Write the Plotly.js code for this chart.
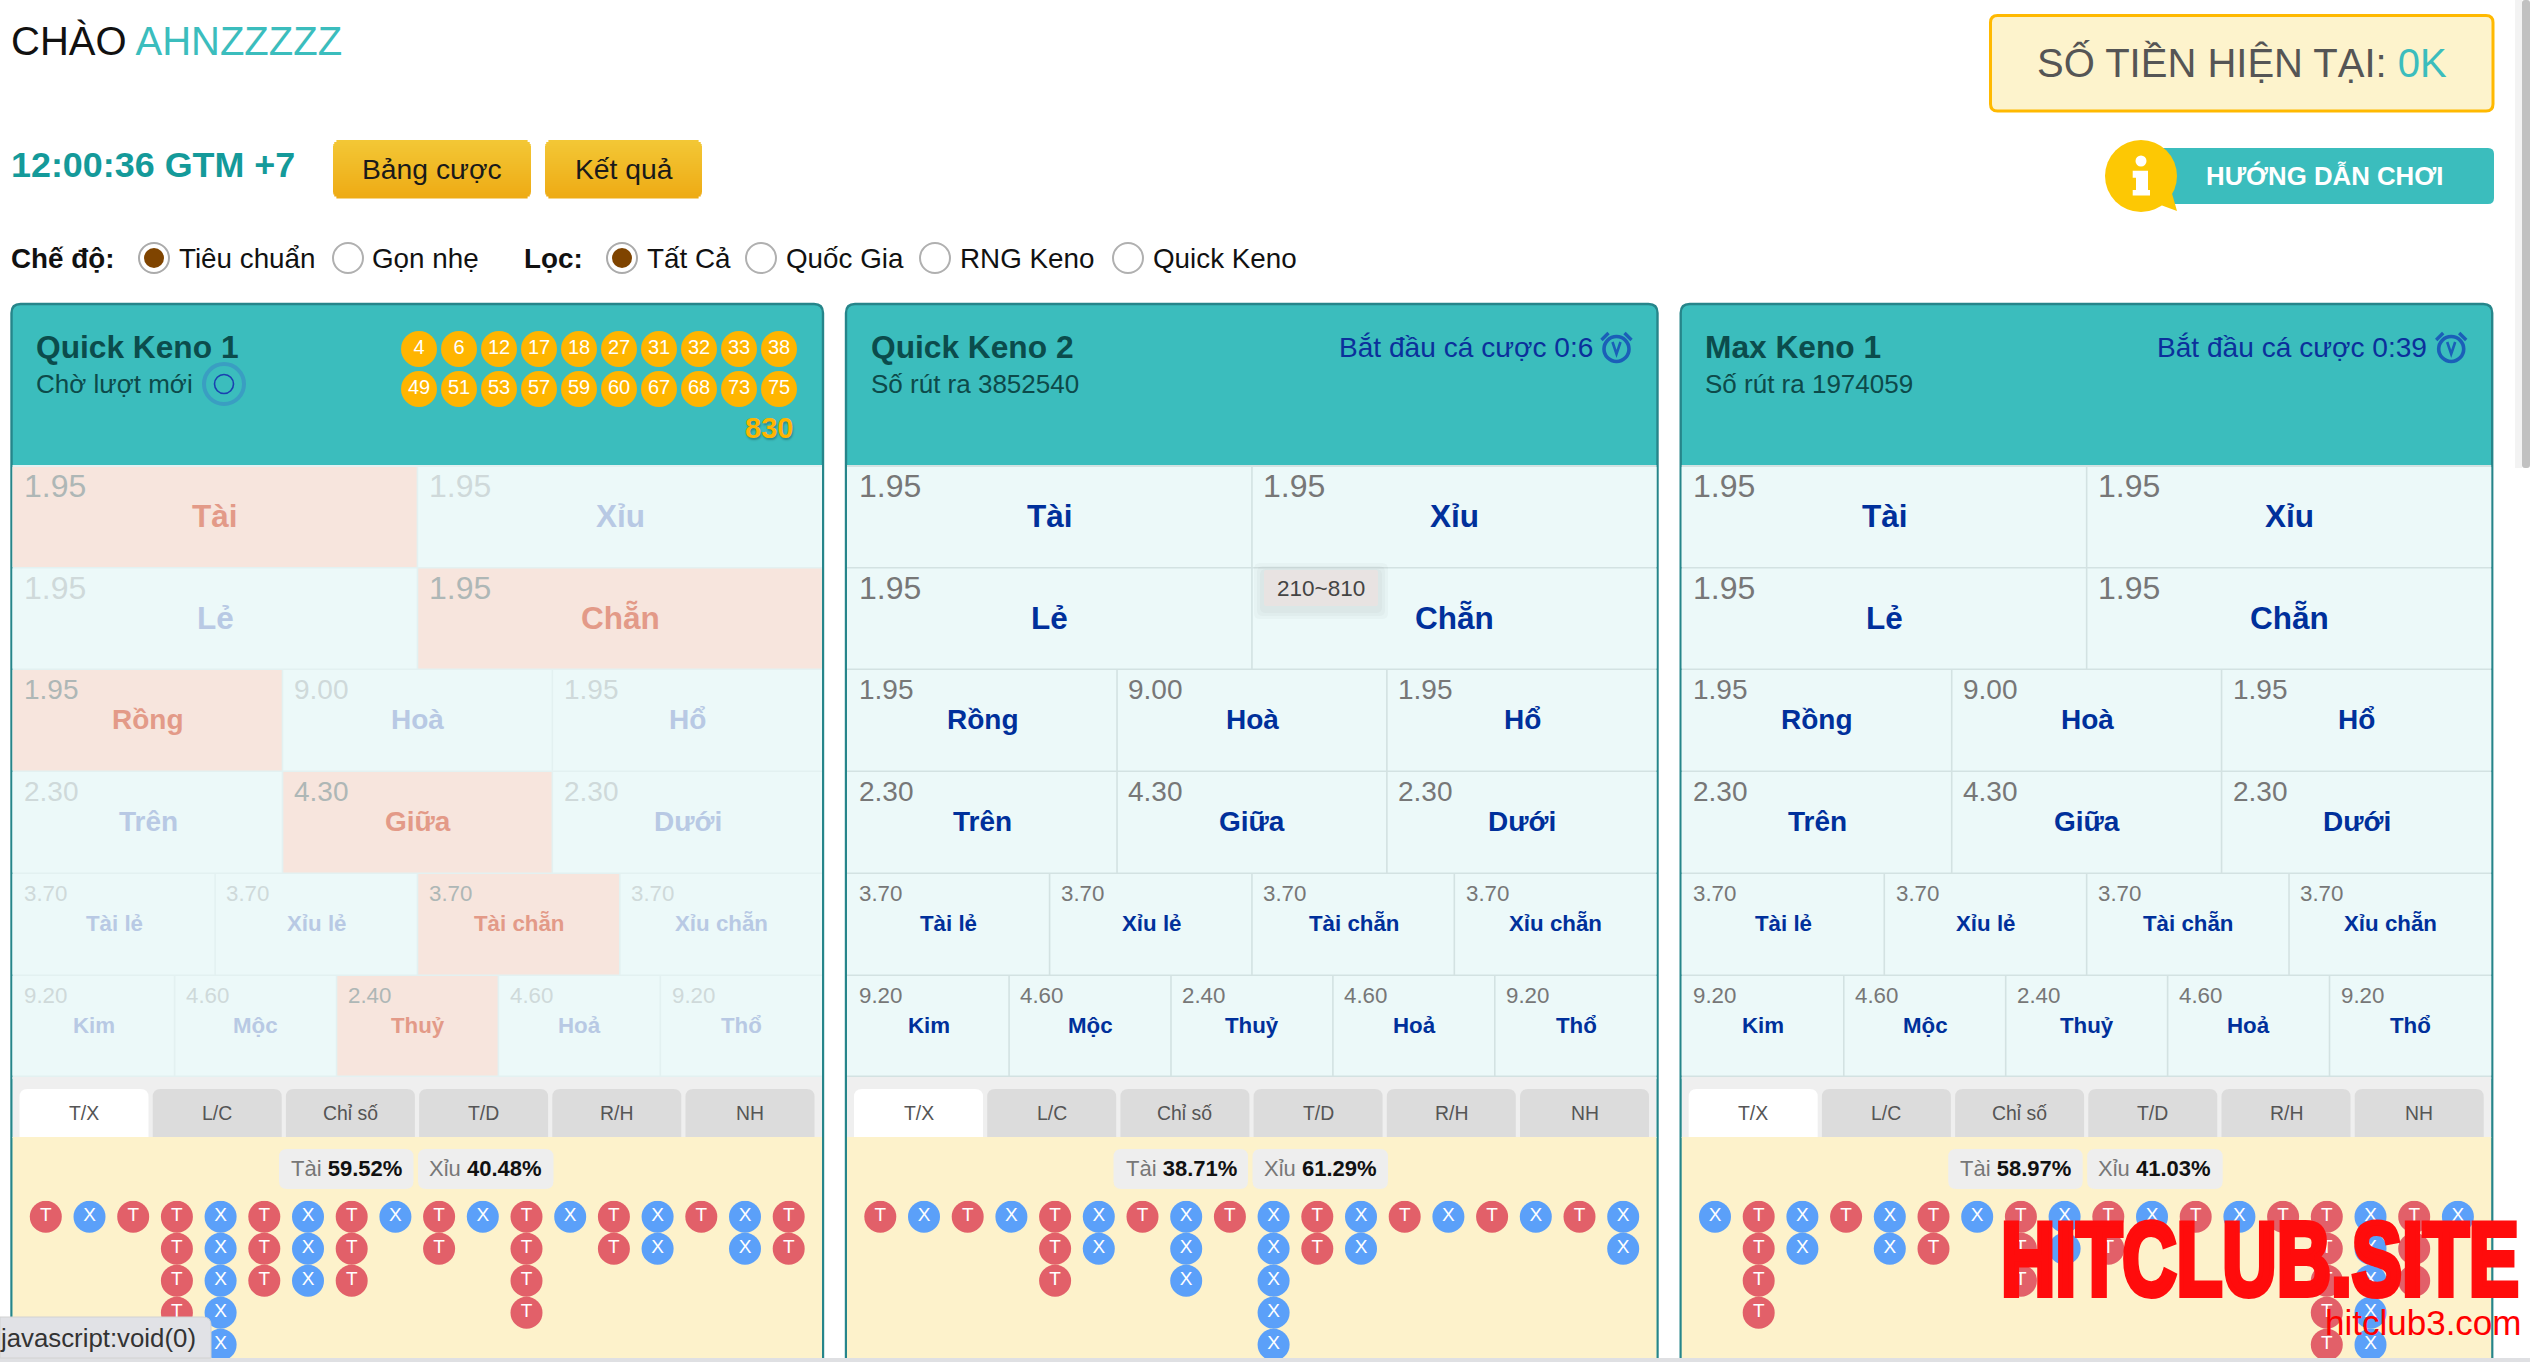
<!DOCTYPE html>
<html><head><meta charset="utf-8">
<script src="https://cdn.plot.ly/plotly-3.0.1.min.js"></script>
<style>html,body{margin:0;padding:0;background:#fff;overflow:hidden}#chart{width:2530px;height:1362px}</style>
</head><body><div id="chart"></div>
<script>
// ---------- data ----------
const greetingName = 'AHNZZZZZ';
const clockText = '12:00:36 GTM +7';
const balanceValue = '0K';
const modeOptions = ['Tiêu chuẩn', 'Gọn nhẹ'];
const filterOptions = ['Tất Cả', 'Quốc Gia', 'RNG Keno', 'Quick Keno'];
const cardTitles = ['Quick Keno 1', 'Quick Keno 2', 'Max Keno 1'];
const cardSubtitles = ['Chờ lượt mới', 'Số rút ra 3852540', 'Số rút ra 1974059'];
const cardCountdowns = [null, 'Bắt đầu cá cược 0:6', 'Bắt đầu cá cược 0:39'];
const drawnBalls = [4, 6, 12, 17, 18, 27, 31, 32, 33, 38, 49, 51, 53, 57, 59, 60, 67, 68, 73, 75];
const drawnTotal = '830';
const betLabels = [['Tài','Xỉu'],['Lẻ','Chẵn'],['Rồng','Hoà','Hổ'],['Trên','Giữa','Dưới'],['Tài lẻ','Xỉu lẻ','Tài chẵn','Xỉu chẵn'],['Kim','Mộc','Thuỷ','Hoả','Thổ']];
const betOdds = [['1.95','1.95'],['1.95','1.95'],['1.95','9.00','1.95'],['2.30','4.30','2.30'],['3.70','3.70','3.70','3.70'],['9.20','4.60','2.40','4.60','9.20']];
const winningCells = ['Tài','Chẵn','Rồng','Giữa','Tài chẵn','Thuỷ'];
const tabLabels = ['T/X','L/C','Chỉ số','T/D','R/H','NH'];
const taiPercent = ['59.52%','38.71%','58.97%'];
const xiuPercent = ['40.48%','61.29%','41.03%'];
const road1Sides  = ['T','X','T','T','X','T','X','T','X','T','X','T','X','T','X','T','X','T'];
const road1Counts = [1,1,1,4,5,3,3,3,1,2,1,4,1,2,2,1,2,2];
const road2Sides  = ['T','X','T','X','T','X','T','X','T','X','T','X','T','X','T','X','T','X'];
const road2Counts = [1,1,1,1,3,2,1,3,1,5,2,2,1,1,1,1,1,2];
const road3Sides  = ['X','T','X','T','X','T','X','T','X','T','X','T','X','T','T','X','T','X'];
const road3Counts = [1,4,2,1,2,2,1,3,2,2,1,1,1,1,5,5,3,1];

// ---------- helpers ----------
const W = 2530, H = 1362, F = '"Liberation Sans", Arial, sans-serif';
const TEAL = '#3bbdbd', shapes = [], annotations = [], traces = [];
const layout = {width:W, height:H, autosize:false, margin:{l:0,r:0,t:0,b:0,pad:0}, paper_bgcolor:'#fff', plot_bgcolor:'rgba(0,0,0,0)', showlegend:false, hovermode:false,
  xaxis:{range:[0,W],domain:[0,1],visible:false,fixedrange:true}, yaxis:{range:[H,0],domain:[0,1],visible:false,fixedrange:true}};
function rect(x0,y0,x1,y1,fill,layer){shapes.push({type:'rect',xref:'x',yref:'y',x0,y0,x1,y1,fillcolor:fill,line:{width:0},layer:layer||'below'});}
function rr(x0,y0,x1,y1,r,fill,lineC,lineW,layer,topOnly){
  const bl=topOnly?0:r;
  const p=`M${x0+r},${y0} L${x1-r},${y0} Q${x1},${y0} ${x1},${y0+r} L${x1},${y1-bl} Q${x1},${y1} ${x1-bl},${y1} L${x0+bl},${y1} Q${x0},${y1} ${x0},${y1-bl} L${x0},${y0+r} Q${x0},${y0} ${x0+r},${y0} Z`;
  shapes.push({type:'path',xref:'x',yref:'y',path:p,fillcolor:fill,line:{width:lineW||0,color:lineC||fill},layer:layer||'below'});
}
function circle(cx,cy,r,fill,lineC,lineW,layer){shapes.push({type:'circle',xref:'x',yref:'y',x0:cx-r,x1:cx+r,y0:cy-r,y1:cy+r,fillcolor:fill,line:{width:lineW||0,color:lineC||'rgba(0,0,0,0)'},layer:layer||'below'});}
function path(p,fill,lineC,lineW){shapes.push({type:'path',xref:'x',yref:'y',path:p,fillcolor:fill||'rgba(0,0,0,0)',line:{width:lineW||0,color:lineC||'rgba(0,0,0,0)'},layer:'below'});}
function txt(x,y,text,size,color,a,shadow){const font={family:F,size,color}; if(shadow) font.shadow=shadow;
  annotations.push({xref:'x',yref:'y',x,y,text,showarrow:false,xanchor:a||'left',yanchor:'middle',font,borderpad:0,borderwidth:0,align:a||'left'});}
function gradientButton(x0,y0,x1,y1,r,c0,c1){const n=Math.round((y1-y0)/2),h=(y1-y0)/n;
  for(let i=0;i<n;i++){const a=y0+i*h,t=(i+.5)/n,d=Math.min(a-y0,y1-a-h);
    const inset=d<r?r-Math.sqrt(r*r-(r-d-1)*(r-d-1)):0;
    const c=c0.map((v,k)=>Math.round(v+(c1[k]-v)*t));
    rect(x0+inset,a,x1-inset,a+h+.6,`rgb(${c.join(',')})`);}
}
let subId=2;
function subplot(l,r,t,b,xr,yr){const id=subId++;
  layout['xaxis'+id]={domain:[l/W,r/W],range:xr,visible:false,fixedrange:true,anchor:'y'+id};
  layout['yaxis'+id]={domain:[1-b/H,1-t/H],range:yr,visible:false,fixedrange:true,anchor:'x'+id};
  return ['x'+id,'y'+id];}

// ---------- page header ----------
txt(10.5,41,`CHÀO <span style="color:${TEAL}">${greetingName}</span>`,40,'#111');
txt(10.5,165,`<b>${clockText}</b>`,35.9,'#149a9a');
gradientButton(333,140,531,198,7,[243,200,54],[238,170,20]);
gradientButton(545,140,702,198,7,[243,200,54],[238,170,20]);
txt(432,169,'Bảng cược',28.3,'#1a1a1a','center');
txt(623.5,169,'Kết quả',28.3,'#1a1a1a','center');

function radio(cx,on){circle(cx,258,15,'#fff',on?'#ababab':'#b0b0b0',2); if(on) circle(cx,258,10,'#7f4400');}
txt(10.5,258,'<b>Chế độ:</b>',27.8,'#111');
[[154,178.5],[348,371.5]].forEach((p,i)=>{radio(p[0],i===0);txt(p[1],258,modeOptions[i],27.8,'#111');});
txt(523.5,258,'<b>Lọc:</b>',27.8,'#111');
[[622,646.5],[761,785.5],[935,959.5],[1128,1152.5]].forEach((p,i)=>{radio(p[0],i===0);txt(p[1],258,filterOptions[i],27.8,'#111');});

// balance box
rr(1990.5,15.5,2493,111,7,'#fdf3cc','#ffb900',3);
txt(2241.5,62,`SỐ TIỀN HIỆN TẠI: <span style="color:${TEAL}">${balanceValue}</span>`,40,'#555','center');

// help button
rr(2150,148,2494,204,6,TEAL);
path('M2158,204 L2177,211 L2171,190 Z','#fdc804');
circle(2141,176,36,'#fdc804');
circle(2141,161,5.5,'#fff');
path('M2132.7,170.7 L2148,170.7 L2148,190 L2150,190 L2150,195.5 L2132.7,195.5 L2132.7,190 L2136,190 L2136,177.7 L2132.7,177.7 Z','#fff');
txt(2205.5,175,'<b>HƯỚNG DẪN CHƠI</b>',25.8,'#fff');

// ---------- cards ----------
const CX = [10.5,845,1679.7], CW = 813.5;
const ROWY = [467,568.5,670,772,874,976,1077];
const PITCH = 43.7, ROW0 = 1216.7, ROWH = 32, CLIP = 1358;
const roads = [[road1Sides,road1Counts],[road2Sides,road2Counts],[road3Sides,road3Counts]];
const BEAD = {T:'#e26069', X:'#5ba0f9'};

CX.forEach((x0,ci)=>{
  const x1=x0+CW, dim=ci===0;
  rr(x0+1,304,x1-1,1400,9,TEAL,'#26858a',2.4,'below',true);
  // header text
  txt(x0+25.5,347,`<b>${cardTitles[ci]}</b>`,31.7,'#0b4c4c');
  txt(x0+25.5,384,cardSubtitles[ci],26,'#0d4a4a');
  if(cardCountdowns[ci]){
    txt(x0+747.5,347,cardCountdowns[ci],28.1,'#0b309b','right');
    const cx=x0+771.5, cy=349;
    circle(cx,cy,12.5,'rgba(0,0,0,0)','#1b5fb8',3.6);
    path(`M${cx-15},${cy-9} L${cx-8},${cy-16}`,null,'#1b5fb8',3.4);
    path(`M${cx+15},${cy-9} L${cx+8},${cy-16}`,null,'#1b5fb8',3.4);
    path(`M${cx-4},${cy-7} L${cx},${cy+5} L${cx+4},${cy-7}`,null,'#1b5fb8',2.6);
  }
  // betting grid
  rect(x0+2,465,x1-2,1079,dim?'#e3f1f1':'#d3e2e2');
  betLabels.forEach((row,r)=>{
    const n=row.length, gx0=x0+2, gw=CW-4, size=[32,32,28,28,22.3,22.3][r];
    row.forEach((label,c)=>{
      const a=gx0+gw*c/n, b=gx0+gw*(c+1)/n, win=dim&&winningCells.includes(label);
      rect(a+(c?1:0),ROWY[r],b-(c<n-1?.6:0),ROWY[r+1]-1.6,win?'#f7e5dd':'#ecf9f9');
      // the odds of card 2's "Chẵn" cell sit under the hover tooltip
      if(!(ci===1 && label==='Chẵn')) txt(a+11.5,ROWY[r]+19,betOdds[r][c],size,dim?(win?'#aeb7b6':'#cfd9da'):'#777');
      txt((a+b)/2+.6,ROWY[r]+49,`<b>${label}</b>`,size===32?31.5:size,dim?(win?'#e39a88':'#b8c9e4'):'#00309b','center');
    });
  });
  // tabs
  rect(x0+2,1077,x1-2,1138,'#efefef');
  tabLabels.forEach((t,i)=>{
    const a=x0+9+i*133.2;
    rr(a,1089,a+129,1137.5,8,i===0?'#fff':'#dcdcdc','','', 'below',true);
    txt(a+64.5,1113,t,19.4,'#555','center');
  });
  // result panel
  rect(x0+2,1137,x1-2,CLIP,'#fdf2cb');
  rr(x0+268.5,1149,x0+403,1189,8,'#eeeeee');
  rr(x0+407.5,1149,x0+543,1189,8,'#eeeeee');
  txt(x0+336,1168,`<span style="color:#777">Tài</span> <b>${taiPercent[ci]}</b>`,22,'#111','center');
  txt(x0+475,1168,`<span style="color:#777">Xỉu</span> <b>${xiuPercent[ci]}</b>`,22,'#111','center');
  // bead road
  const first=x0+35.3;
  const [xa,ya]=subplot(first-PITCH/2,first+17.5*PITCH,ROW0-ROWH/2,CLIP,[-0.5,17.5],[(CLIP-ROW0)/ROWH,-0.5]);
  const [sides,counts]=roads[ci];
  ['T','X'].forEach(side=>{
    const xs=[],ys=[],ts=[];
    sides.forEach((s,col)=>{ if(s===side) for(let k=0;k<counts[col];k++){xs.push(col);ys.push(k);ts.push(s);} });
    traces.push({type:'scatter',mode:'markers+text',xaxis:xa,yaxis:ya,x:xs,y:ys,text:ts,name:cardTitles[ci]+' '+side,
      marker:{size:32,color:BEAD[side],line:{width:0}},textposition:'middle center',textfont:{family:F,size:19,color:'#fff'},cliponaxis:true,hoverinfo:'skip'});
  });
});

// card 1 drawn balls & spinner
circle(224,384,20,'rgba(0,0,0,0)','#3a9ec2',4);
circle(224,384,9.5,'rgba(0,0,0,0)','#1a3fb0',1.6);
{
  const [xa,ya]=subplot(399,799,329,409,[-0.5,9.5],[1.5,-0.5]);
  traces.push({type:'scatter',mode:'markers+text',xaxis:xa,yaxis:ya,
    x:drawnBalls.map((_,i)=>i%10),y:drawnBalls.map((_,i)=>Math.floor(i/10)),text:drawnBalls.map(String),name:'Số rút',
    marker:{size:36,color:'#ffb500',line:{width:0}},textposition:'middle center',textfont:{family:F,size:20,color:'#fff'},cliponaxis:false,hoverinfo:'skip'});
}
txt(793,428,`<b>${drawnTotal}</b>`,29,'#ffb500','right','1px 2px 2px rgba(0,0,0,.25)');

// hover tooltip on card 2
[10,7,4].forEach(g=>rr(1264-g,570-g+3,1378+g,606+g+3,6,'rgba(60,70,70,.03)'));
rr(1264,570,1378,606,2,'#e8e3e2');
txt(1321,588,'210~810',22.5,'#444','center');

// browser chrome
rect(2515,0,2522,468,'#f3f3f3','above');
rr(2522,0,2530,468,3,'#c1c1c1','','', 'above');
rect(0,1358,W,H,'#dfe0e3','above');
shapes.push({type:'path',xref:'x',yref:'y',path:'M0,1317 L203,1317 Q211,1317 211,1325 L211,1358 L0,1358 Z',fillcolor:'#e1e2e6',line:{width:1,color:'#d2d2d2'},layer:'above'});
txt(0,1338,'javascript:void(0)',25.8,'#333');

// watermark
txt(2001,1259,'<b>HITCLUB.SITE</b>',103,'#ff0c0c');
txt(2325,1322,'hitclub3.com',35,'#f00');

layout.shapes=shapes; layout.annotations=annotations;
Plotly.newPlot('chart',traces,layout,{displayModeBar:false,staticPlot:true}).then(gd=>{
  gd.querySelectorAll('.annotation-text').forEach(t=>{
    if(t.textContent==='HITCLUB.SITE'){
      t.setAttribute('textLength','518');t.setAttribute('lengthAdjust','spacingAndGlyphs');
      t.style.stroke='#ff0c0c';t.style.strokeWidth='6px';t.style.strokeLinejoin='miter';
    }
  });
});
</script></body></html>
